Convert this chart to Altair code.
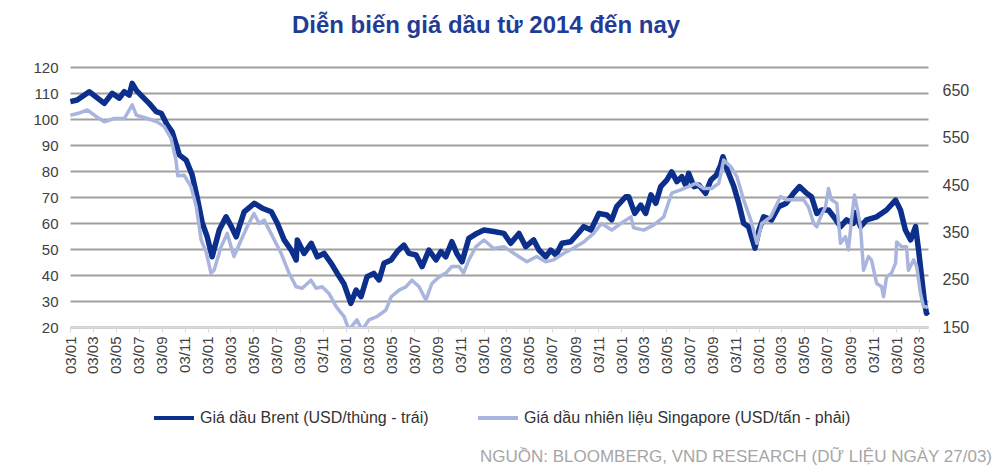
import altair as alt
import pandas as pd

title_text = "Diễn biến giá dầu từ 2014 đến nay"
source_text = "NGUỒN: BLOOMBERG, VND RESEARCH (DỮ LIỆU NGÀY 27/03)"
series_names = ["Giá dầu Brent (USD/thùng - trái)",
                "Giá dầu nhiên liệu Singapore (USD/tấn - phải)"]
series_colors = ["#0d2f8c", "#a9b5dd"]

brent_dates = [
    "2014-01-03", "2014-01-21", "2014-02-22", "2014-03-16", "2014-04-03", "2014-04-24",
    "2014-05-13", "2014-05-26", "2014-06-08", "2014-06-16", "2014-06-27", "2014-07-13",
    "2014-07-31", "2014-08-19", "2014-09-01", "2014-09-17", "2014-09-30", "2014-10-19",
    "2014-11-06", "2014-11-22", "2014-12-05", "2014-12-19", "2015-01-01", "2015-01-14",
    "2015-02-02", "2015-02-20", "2015-03-06", "2015-03-19", "2015-03-27", "2015-04-09",
    "2015-05-06", "2015-05-27", "2015-06-20", "2015-07-06", "2015-07-24", "2015-08-12",
    "2015-08-25", "2015-08-28", "2015-09-15", "2015-10-04", "2015-10-20", "2015-11-07",
    "2015-11-26", "2015-12-12", "2015-12-30", "2016-01-17", "2016-01-31", "2016-02-13",
    "2016-02-29", "2016-03-18", "2016-04-01", "2016-04-14", "2016-05-03", "2016-05-19",
    "2016-06-06", "2016-06-19", "2016-07-08", "2016-07-24", "2016-08-11", "2016-08-30",
    "2016-09-12", "2016-09-25", "2016-10-11", "2016-10-24", "2016-11-07", "2016-11-25",
    "2016-12-16", "2017-01-04", "2017-01-30", "2017-02-26", "2017-03-16", "2017-04-07",
    "2017-04-25", "2017-05-16", "2017-05-30", "2017-06-17", "2017-06-30", "2017-07-14",
    "2017-07-30", "2017-08-22", "2017-09-07", "2017-09-26", "2017-10-15", "2017-11-05",
    "2017-11-26", "2017-12-09", "2017-12-22", "2018-01-15", "2018-01-23", "2018-02-08",
    "2018-02-24", "2018-03-09", "2018-03-23", "2018-04-05", "2018-04-18", "2018-05-04",
    "2018-05-17", "2018-05-31", "2018-06-13", "2018-06-23", "2018-07-01", "2018-07-15",
    "2018-07-28", "2018-08-15", "2018-08-29", "2018-09-13", "2018-09-24", "2018-09-30",
    "2018-10-10", "2018-10-29", "2018-11-11", "2018-11-24", "2018-12-07", "2018-12-24",
    "2019-01-03", "2019-01-16", "2019-02-06", "2019-02-25", "2019-03-17", "2019-04-05",
    "2019-04-21", "2019-05-10", "2019-05-23", "2019-06-06", "2019-06-19", "2019-07-07",
    "2019-07-21", "2019-08-08", "2019-08-24", "2019-09-11", "2019-09-16", "2019-09-30",
    "2019-10-16", "2019-11-12", "2019-12-08", "2020-01-01", "2020-01-14", "2020-01-27",
    "2020-02-10", "2020-02-23", "2020-03-02", "2020-03-10", "2020-03-18", "2020-03-23",
    "2020-03-27",
]
brent_values = [
    106.7, 107.3, 110.5, 108.0, 106.0, 109.9,
    108.0, 110.5, 109.2, 113.7, 111.0, 108.6,
    106.0, 102.8, 102.2, 97.7, 95.1, 86.2,
    84.2, 78.5, 70.1, 59.9, 54.7, 47.0,
    57.3, 62.4, 58.6, 54.7, 58.6, 64.3,
    67.6, 65.7, 64.3, 59.9, 53.5, 49.6,
    45.8, 53.5, 48.3, 52.2, 47.0, 48.3,
    44.5, 40.6, 36.5, 29.1, 34.2, 31.7,
    39.3, 40.6, 38.1, 44.5, 45.8, 49.0,
    51.5, 48.3, 47.7, 43.2, 49.6, 45.8,
    49.0, 47.0, 52.8, 48.3, 45.1, 54.1,
    56.0, 57.3, 56.7, 56.0, 52.2, 56.0,
    50.9, 53.5, 49.6, 47.0, 49.6, 47.7,
    52.2, 52.8, 55.4, 58.6, 57.3, 63.7,
    63.1, 61.2, 66.3, 70.1, 70.1, 63.7,
    66.9, 63.7, 70.8, 67.6, 74.0, 76.5,
    79.7, 75.9, 77.8, 74.6, 79.1, 74.0,
    74.6, 71.4, 76.5, 78.5, 82.3, 85.5,
    81.0, 74.0, 67.6, 59.9, 58.6, 50.3,
    57.0, 62.4, 61.2, 66.3, 67.6, 71.4,
    74.0, 71.4, 70.1, 63.7, 65.0, 65.0,
    62.4, 58.6, 61.2, 59.9, 64.0, 58.6,
    61.2, 62.4, 65.0, 68.8, 65.0, 57.3,
    53.5, 58.6, 49.6, 39.3, 29.1, 25.3,
    26.0,
]

sg_dates = [
    "2014-01-03", "2014-01-24", "2014-02-17", "2014-03-13", "2014-04-03", "2014-04-29",
    "2014-05-26", "2014-06-16", "2014-06-27", "2014-07-26", "2014-08-21", "2014-09-09",
    "2014-09-27", "2014-10-10", "2014-10-15", "2014-11-01", "2014-11-19", "2014-12-03",
    "2014-12-16", "2014-12-29", "2015-01-11", "2015-01-19", "2015-02-07", "2015-02-23",
    "2015-03-13", "2015-04-01", "2015-04-17", "2015-05-05", "2015-05-19", "2015-06-01",
    "2015-06-19", "2015-07-16", "2015-08-06", "2015-08-25", "2015-09-10", "2015-10-03",
    "2015-10-17", "2015-11-02", "2015-11-20", "2015-12-09", "2015-12-30", "2016-01-12",
    "2016-02-02", "2016-02-16", "2016-03-05", "2016-03-26", "2016-04-19", "2016-05-03",
    "2016-05-24", "2016-06-11", "2016-06-27", "2016-07-16", "2016-08-03", "2016-08-19",
    "2016-09-07", "2016-09-25", "2016-10-11", "2016-10-30", "2016-11-11", "2016-11-25",
    "2016-12-14", "2017-01-04", "2017-01-30", "2017-02-26", "2017-03-24", "2017-04-28",
    "2017-05-24", "2017-06-17", "2017-07-08", "2017-08-04", "2017-08-30", "2017-09-26",
    "2017-10-22", "2017-11-12", "2017-12-09", "2018-01-02", "2018-01-29", "2018-02-05",
    "2018-03-04", "2018-03-31", "2018-04-26", "2018-05-17", "2018-06-10", "2018-07-01",
    "2018-07-20", "2018-08-10", "2018-08-31", "2018-09-19", "2018-10-02", "2018-10-21",
    "2018-11-06", "2018-11-24", "2018-12-13", "2018-12-29", "2019-01-11", "2019-02-04",
    "2019-03-02", "2019-03-17", "2019-04-11", "2019-05-02", "2019-05-15", "2019-05-29",
    "2019-06-06", "2019-06-16", "2019-06-29", "2019-07-07", "2019-07-15", "2019-07-29",
    "2019-08-08", "2019-08-21", "2019-08-29", "2019-09-06", "2019-09-14", "2019-09-22",
    "2019-09-30", "2019-10-08", "2019-10-21", "2019-10-29", "2019-11-12", "2019-11-25",
    "2019-11-30", "2019-12-08", "2019-12-21", "2020-01-01", "2020-01-04", "2020-01-17",
    "2020-01-30", "2020-02-04", "2020-02-18", "2020-02-26", "2020-03-07", "2020-03-15",
    "2020-03-23", "2020-03-27",
]
sg_values = [
    598, 602, 609, 595, 584, 591,
    591, 620, 598, 591, 584, 574,
    549, 503, 470, 471, 447, 404,
    334, 309, 264, 270, 320, 348,
    299, 334, 362, 390, 369, 376,
    348, 306, 264, 235, 232, 249,
    232, 235, 221, 193, 172, 144,
    165, 144, 165, 172, 186, 214,
    228, 235, 249, 235, 207, 242,
    256, 264, 278, 278, 264, 292,
    320, 334, 316, 320, 306, 288,
    299, 288, 292, 306, 317, 330,
    348, 369, 355, 369, 383, 360,
    355, 366, 383, 433, 440, 447,
    454, 443, 443, 454, 503, 489,
    468, 419, 376, 327, 369, 383,
    426, 419, 419, 419, 404, 369,
    362, 383, 404, 443, 419, 412,
    327, 341, 313, 376, 429, 398,
    362, 270, 299, 292, 242, 235,
    214, 256, 264, 285, 330, 320,
    320, 270, 292, 278, 221, 193,
    193, 190,
]

left_ticks = [20, 30, 40, 50, 60, 70, 80, 90, 100, 110, 120]
right_ticks = [150, 250, 350, 450, 550, 650]
tick_months = [(y, m) for y in range(2014, 2021) for m in (1, 3, 5, 7, 9, 11)
               if (y, m) <= (2020, 3)]

brent_df = pd.DataFrame({"date": brent_dates, "value": brent_values, "series": series_names[0]})
sg_df = pd.DataFrame({"date": sg_dates, "value": sg_values, "series": series_names[1]})
src_df = pd.DataFrame({"t": [source_text]})

FONT = "Liberation Sans"

x_enc = alt.X(
    "date:T",
    scale=alt.Scale(type="utc",
                    domain=[alt.DateTime(year=2014, month=1, date=2, utc=True),
                            alt.DateTime(year=2020, month=3, date=27, utc=True)]),
    axis=alt.Axis(
        title=None,
        values=[alt.DateTime(year=y, month=m, date=3, utc=True) for y, m in tick_months],
        format="%d/%m",
        labelAngle=-90,
        labelFontSize=15,
        labelColor="#404040",
        labelFont=FONT,
        labelPadding=4,
        labelOverlap=False,
        labelFlush=False,
        grid=False,
        domainColor="#d9d9d9",
        domainWidth=1.5,
        tickColor="#d9d9d9",
        tickSize=5,
    ),
)

legend = alt.Legend(
    title=None,
    orient="none",
    legendX=82,
    legendY=329,
    direction="horizontal",
    symbolType="stroke",
    symbolSize=1600,
    symbolStrokeWidth=4,
    labelFontSize=16,
    labelFont=FONT,
    labelColor="#333333",
    labelLimit=500,
    labelOffset=4,
    columnPadding=41,
    padding=0,
)
color_enc = alt.Color("series:N",
                      scale=alt.Scale(domain=series_names, range=series_colors),
                      legend=legend)

brent_layer = alt.Chart(brent_df).mark_line(strokeWidth=5.5, strokeJoin="round").encode(
    x=x_enc,
    y=alt.Y("value:Q",
            scale=alt.Scale(domain=[20, 120], nice=False, zero=False),
            axis=alt.Axis(orient="left", title=None, values=left_ticks,
                          labelFontSize=15, labelColor="#404040", labelFont=FONT,
                          labelPadding=12, domain=False, ticks=False,
                          grid=True, gridColor="#a0a0a0", gridWidth=2)),
    color=color_enc,
)

sg_layer = alt.Chart(sg_df).mark_line(strokeWidth=3.5, strokeJoin="round", clip=True).encode(
    x=x_enc,
    y=alt.Y("value:Q",
            scale=alt.Scale(domain=[150, 700], nice=False, zero=False),
            axis=alt.Axis(orient="right", title=None, values=right_ticks,
                          labelFontSize=16, labelColor="#404040", labelFont=FONT,
                          labelPadding=14, domain=False, ticks=False, grid=False)),
    color=color_enc,
)

src_layer = alt.Chart(src_df).mark_text(
    align="right", baseline="alphabetic", fontSize=17, font=FONT, color="#a6a6a6"
).encode(x=alt.value(922), y=alt.value(395), text="t:N")

chart = alt.layer(brent_layer, sg_layer, src_layer).resolve_scale(
    y="independent"
).properties(
    width=858,
    height=260,
    autosize="none",
    padding={"left": 62, "top": 59, "right": 64, "bottom": 140},
    title=alt.TitleParams(text=title_text, font=FONT, fontSize=24, fontWeight="bold",
                          color="#1f3d96", anchor="middle", dx=-13, offset=22),
).configure_view(stroke=None)

chart.save("out.html", embed_options={"renderer": "svg", "actions": False})
